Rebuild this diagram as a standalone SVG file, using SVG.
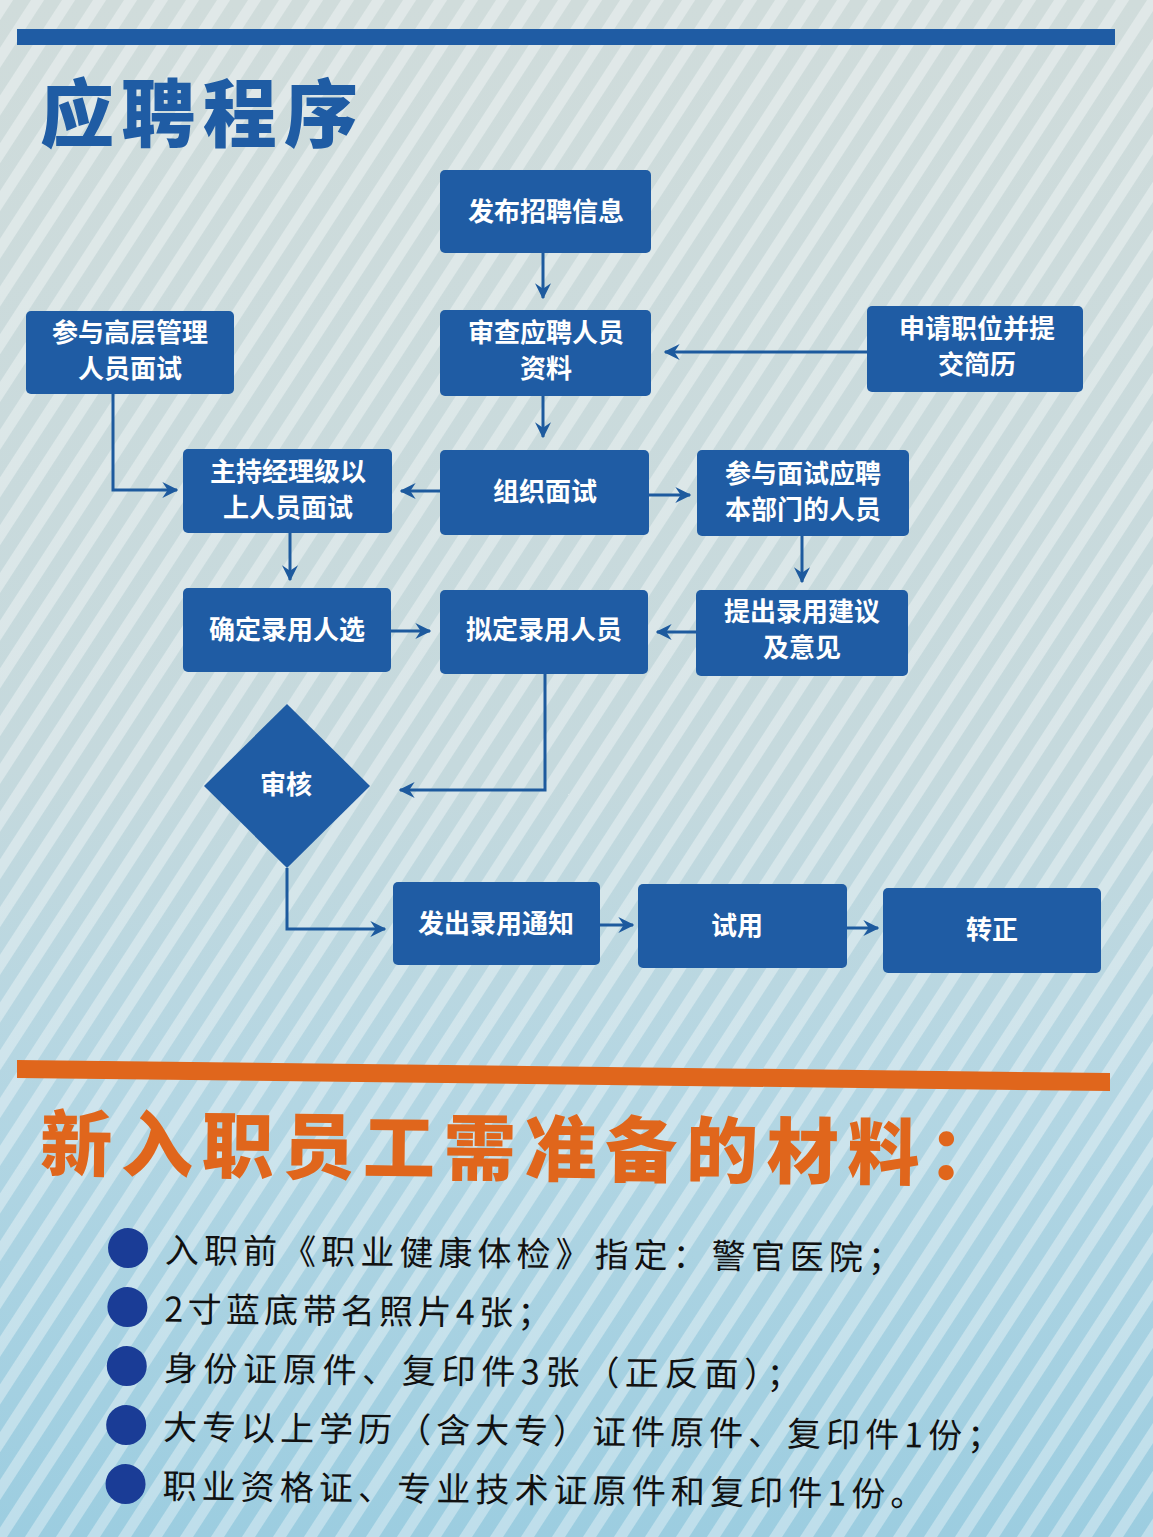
<svg xmlns="http://www.w3.org/2000/svg" width="1153" height="1537" viewBox="0 0 1153 1537">
<defs>
<linearGradient id="bg" x1="0" y1="0" x2="0" y2="1">
<stop offset="0" stop-color="#d0dcdb"/>
<stop offset="0.5" stop-color="#c5d9dd"/>
<stop offset="0.72" stop-color="#b3d6e3"/>
<stop offset="1" stop-color="#9ccde0"/>
</linearGradient>
<pattern id="stripes" width="26" height="26" patternUnits="userSpaceOnUse" patternTransform="rotate(33)">
<rect x="0" y="0" width="11" height="26" fill="#ffffff" fill-opacity="0.35"/>
</pattern>
<marker id="arr" viewBox="0 0 12 12" refX="11" refY="6" markerWidth="16" markerHeight="16" markerUnits="userSpaceOnUse" orient="auto">
<path d="M0,0 L12,6 L0,12 L4,6 Z" fill="#1d5a9e"/>
</marker>
<style>
.box{fill:#1f5ca4;}
.bt{fill:#ffffff;font-family:"Noto Sans CJK SC","Noto Sans",sans-serif;font-weight:700;font-size:26px;text-anchor:middle;}
.con{fill:none;stroke:#1d5a9e;stroke-width:3;marker-end:url(#arr);}
.li{fill:#111111;font-family:"Noto Sans CJK SC","Noto Sans",sans-serif;font-size:34px;}
.dot{fill:#1a3c96;}
</style>
</defs>
<rect width="1153" height="1537" fill="url(#bg)"/>
<rect width="1153" height="1537" fill="url(#stripes)"/>

<rect x="17" y="29" width="1098" height="16" fill="#1f5ca4"/>
<text x="40" y="141" font-family="'Noto Sans CJK SC',sans-serif" font-weight="900" font-size="74" fill="#1f5ca4" textLength="318" lengthAdjust="spacing">应聘程序</text>

<g id="connectors">
<line class="con" x1="543" y1="253" x2="543" y2="298"/>
<line class="con" x1="543" y1="396" x2="543" y2="437"/>
<line class="con" x1="867" y1="352" x2="665" y2="352"/>
<polyline class="con" points="113,394 113,490 177,490"/>
<line class="con" x1="440" y1="491" x2="401" y2="491"/>
<line class="con" x1="649" y1="495" x2="690" y2="495"/>
<line class="con" x1="802" y1="536" x2="802" y2="582"/>
<line class="con" x1="290" y1="533" x2="290" y2="580"/>
<line class="con" x1="391" y1="631" x2="430" y2="631"/>
<line class="con" x1="696" y1="632" x2="657" y2="632"/>
<polyline class="con" points="545,674 545,790 400,790"/>
<polyline class="con" points="287,868 287,929 385,929"/>
<line class="con" x1="600" y1="925" x2="633" y2="925"/>
<line class="con" x1="847" y1="928" x2="878" y2="928"/>
</g>

<g id="n1"><rect class="box" x="440" y="170" width="211" height="83" rx="5"/><text class="bt" x="546" y="221">发布招聘信息</text></g>
<g id="n2"><rect class="box" x="440" y="310" width="211" height="86" rx="5"/><text class="bt" x="546" y="342">审查应聘人员</text><text class="bt" x="546" y="378">资料</text></g>
<g id="n3"><rect class="box" x="867" y="306" width="216" height="86" rx="5"/><text class="bt" x="977" y="338">申请职位并提</text><text class="bt" x="977" y="374">交简历</text></g>
<g id="n4"><rect class="box" x="26" y="311" width="208" height="83" rx="5"/><text class="bt" x="130" y="342">参与高层管理</text><text class="bt" x="130" y="378">人员面试</text></g>
<g id="n5"><rect class="box" x="183" y="449" width="209" height="84" rx="5"/><text class="bt" x="288" y="481">主持经理级以</text><text class="bt" x="288" y="517">上人员面试</text></g>
<g id="n6"><rect class="box" x="440" y="450" width="209" height="85" rx="5"/><text class="bt" x="545" y="501">组织面试</text></g>
<g id="n7"><rect class="box" x="697" y="450" width="212" height="86" rx="5"/><text class="bt" x="803" y="483">参与面试应聘</text><text class="bt" x="803" y="519">本部门的人员</text></g>
<g id="n8"><rect class="box" x="183" y="588" width="208" height="84" rx="5"/><text class="bt" x="287" y="639">确定录用人选</text></g>
<g id="n9"><rect class="box" x="440" y="590" width="208" height="84" rx="5"/><text class="bt" x="544" y="639">拟定录用人员</text></g>
<g id="n10"><rect class="box" x="696" y="590" width="212" height="86" rx="5"/><text class="bt" x="802" y="621">提出录用建议</text><text class="bt" x="802" y="657">及意见</text></g>
<g id="n11"><polygon class="box" points="287,704 370,786 287,868 204,786"/><text class="bt" x="286" y="794">审核</text></g>
<g id="n12"><rect class="box" x="393" y="882" width="207" height="83" rx="5"/><text class="bt" x="496" y="933">发出录用通知</text></g>
<g id="n13"><rect class="box" x="638" y="884" width="209" height="84" rx="5"/><text class="bt" x="737" y="935">试用</text></g>
<g id="n14"><rect class="box" x="883" y="888" width="218" height="85" rx="5"/><text class="bt" x="992" y="939">转正</text></g>

<polygon points="17,1060 1110,1073 1110,1091 17,1078" fill="#e0661c"/>
<text x="40" y="1170" transform="rotate(0.6 40 1170)" font-family="'Noto Sans CJK SC',sans-serif" font-weight="900" font-size="72" fill="#e0661c" textLength="960" lengthAdjust="spacing">新入职员工需准备的材料：</text>

<g transform="rotate(0.6 120 1250)">
<circle class="dot" cx="128" cy="1248" r="20"/>
<circle class="dot" cx="128" cy="1307" r="20"/>
<circle class="dot" cx="128" cy="1366" r="20"/>
<circle class="dot" cx="128" cy="1425" r="20"/>
<circle class="dot" cx="128" cy="1484" r="20"/>
<text class="li" x="165" y="1262" textLength="737" lengthAdjust="spacing">入职前《职业健康体检》指定：警官医院；</text>
<text class="li" x="165" y="1321" textLength="387" lengthAdjust="spacing">2寸蓝底带名照片4张；</text>
<text class="li" x="165" y="1380" textLength="637" lengthAdjust="spacing">身份证原件、复印件3张（正反面）；</text>
<text class="li" x="165" y="1439" textLength="838" lengthAdjust="spacing">大专以上学历（含大专）证件原件、复印件1份；</text>
<text class="li" x="165" y="1498" textLength="762" lengthAdjust="spacing">职业资格证、专业技术证原件和复印件1份。</text>
</g>
</svg>
